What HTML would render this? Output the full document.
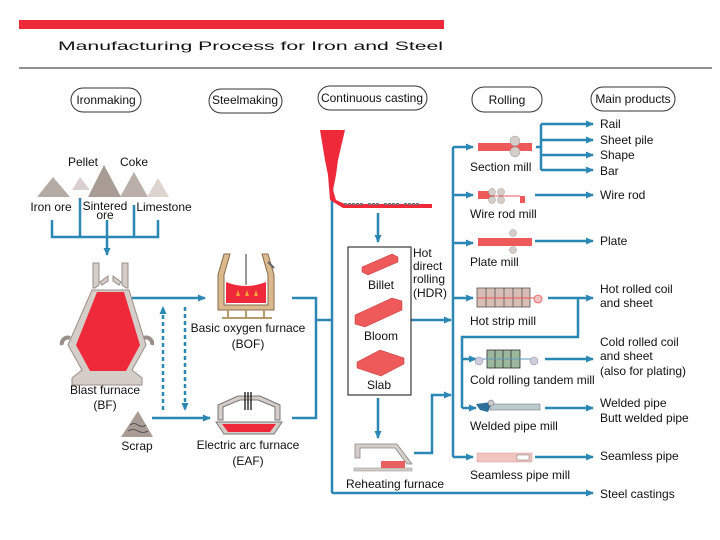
<!DOCTYPE html>
<html><head><meta charset="utf-8"><style>
html,body{margin:0;padding:0;background:#fff;}
svg{display:block;}
text{font-family:"Liberation Sans",Arial,sans-serif;font-size:12px;fill:#111;}
</style></head><body>
<svg width="720" height="540" viewBox="0 0 720 540" xmlns="http://www.w3.org/2000/svg">
<defs>
<marker id="a" markerWidth="8" markerHeight="8" refX="7" refY="4" orient="auto" markerUnits="userSpaceOnUse">
<path d="M0,0.5 L8,4 L0,7.5 z" fill="#2b87b3"/></marker>
</defs>
<!-- title -->
<rect x="19" y="20" width="425" height="9" fill="#ee2a3a"/>
<text x="58" y="50" font-size="22" textLength="385" lengthAdjust="spacingAndGlyphs">Manufacturing Process for Iron and Steel</text>
<line x1="19" y1="68" x2="712" y2="68" stroke="#222" stroke-width="1"/>

<!-- headers -->
<g fill="none" stroke="#333" stroke-width="1">
<rect x="71" y="88" width="70" height="24" rx="12"/>
<rect x="209" y="89" width="73" height="24" rx="12"/>
<rect x="318" y="86" width="109" height="24" rx="12"/>
<rect x="472" y="87" width="70" height="25" rx="12"/>
<rect x="591" y="87" width="84" height="24" rx="12"/>
</g>
<text x="106" y="104" text-anchor="middle" font-size="11">Ironmaking</text>
<text x="245" y="104" text-anchor="middle" font-size="11">Steelmaking</text>
<text x="372" y="102" text-anchor="middle" font-size="11">Continuous casting</text>
<text x="507" y="104" text-anchor="middle" font-size="11">Rolling</text>
<text x="633" y="103" text-anchor="middle" font-size="11">Main products</text>

<!-- raw materials -->
<polygon points="37,197 53,177 70,197" fill="#b5aba5"/>
<polygon points="72,190 80,177 90,190" fill="#d8d0cc"/>
<polygon points="88,197 104,165 121,197" fill="#a89c94"/>
<polygon points="120,197 134,172 148,197" fill="#b9afa8"/>
<polygon points="147,197 158,178 169,197" fill="#ddd4d0"/>
<text x="83" y="166" text-anchor="middle">Pellet</text>
<text x="134" y="166" text-anchor="middle">Coke</text>
<text x="51" y="211" text-anchor="middle">Iron ore</text>
<text x="105" y="210" text-anchor="middle">Sintered</text>
<text x="105" y="219" text-anchor="middle" font-size="10">ore</text>
<text x="164" y="211" text-anchor="middle">Limestone</text>

<g stroke="#2b87b3" stroke-width="2.5" fill="none">
<path d="M52,220 V237 H158 V220 M80,198 V237 M134,205 V237"/>
<path d="M107,220 V255" marker-end="url(#a)"/>
<path d="M132,298 H205" marker-end="url(#a)"/>
<path d="M152,418 H210" marker-end="url(#a)"/>
<path d="M163,410 V307" stroke-dasharray="4,3" marker-end="url(#a)"/>
<path d="M185,307 V410" stroke-dasharray="4,3" marker-end="url(#a)"/>
<path d="M292,298 H316 V418 H292 M316,320 H332"/>
<path d="M332,493 V136" marker-end="url(#a)"/>
<path d="M332,493 H593" marker-end="url(#a)"/>
<path d="M378,213 V242" marker-end="url(#a)"/>
<path d="M411,320 H451" marker-end="url(#a)"/>
<path d="M378,398 V438" marker-end="url(#a)"/>
<path d="M414,453 H432 V395 H451" marker-end="url(#a)"/>
<path d="M453,147 V457"/>
<path d="M453,147 H473" marker-end="url(#a)"/>
<path d="M453,195 H473" marker-end="url(#a)"/>
<path d="M453,243 H473" marker-end="url(#a)"/>
<path d="M453,298 H473" marker-end="url(#a)"/>
<path d="M453,457 H473" marker-end="url(#a)"/>
<path d="M548,298 H593" marker-end="url(#a)"/>
<path d="M578,298 V337 H462 V408"/>
<path d="M462,359 H476" marker-end="url(#a)"/>
<path d="M462,408 H476" marker-end="url(#a)"/>
<path d="M536,147 H541 M541,124 V170"/>
<path d="M541,124 H593" marker-end="url(#a)"/>
<path d="M541,140 H593" marker-end="url(#a)"/>
<path d="M541,155 H593" marker-end="url(#a)"/>
<path d="M541,170 H593" marker-end="url(#a)"/>
<path d="M535,195 H593" marker-end="url(#a)"/>
<path d="M535,241 H593" marker-end="url(#a)"/>
<path d="M545,359 H593" marker-end="url(#a)"/>
<path d="M545,408 H593" marker-end="url(#a)"/>
<path d="M535,457 H593" marker-end="url(#a)"/>
</g>

<!-- blast furnace -->
<g stroke="#9a8f88" stroke-width="1" fill="#d5cdc8">
<path d="M93,263 L99,263 L99,285 L95,288 L93,288 Z"/>
<path d="M122,263 L128,263 L128,288 L126,288 L122,285 Z"/>
<path d="M100,282 L108,276 L108,281 L102,285 Z M121,282 L113,276 L113,281 L119,285 Z"/>
<path d="M92,290 L129,290 L146,345 L132,370 L142,378 L142,385 L72,385 L72,378 L82,370 L68,345 Z"/>
<path d="M97,292 L124,292 L140,345 L126,371 L90,371 L76,345 Z" fill="#ee2a3a" stroke="none"/>
<path d="M62,345 a6,6 0 0 1 8,-7 M152,345 a6,6 0 0 0 -8,-7" fill="none" stroke-width="4"/>
</g>
<text x="105" y="394" text-anchor="middle">Blast furnace</text>
<text x="105" y="409" text-anchor="middle">(BF)</text>
<polygon points="121,437 138,411 153,437" fill="#a89c94"/>
<path d="M130,425 q4,-3 8,0 t8,0 M128,431 q5,-3 10,0 t10,0" stroke="#444" fill="none" stroke-width="0.8"/>
<text x="137" y="450" text-anchor="middle">Scrap</text>

<!-- BOF -->
<path d="M224,254 L230,254 L224,275 L224,305 L268,305 L268,275 L262,254 L268,254 L274,275 L274,310 L218,310 L218,275 Z" fill="#d9b98d" stroke="#8a6a4a" stroke-width="1"/>
<path d="M226,282 Q246,290 266,282 L266,303 L226,303 Z" fill="#ee2a3a"/>
<line x1="246" y1="254" x2="246" y2="285" stroke="#999" stroke-width="2"/>
<path d="M236,296 l2,-6 l2,6 z M245,296 l2,-6 l2,6 z M254,296 l2,-6 l2,6 z" fill="#f7a33a"/>
<path d="M228,310 V318 M246,310 V318 M264,310 V318 M222,318 H272" stroke="#b59a6a" stroke-width="2"/>
<line x1="268" y1="262" x2="274" y2="268" stroke="#666" stroke-width="2"/>
<text x="248" y="332" text-anchor="middle">Basic oxygen furnace</text>
<text x="248" y="348" text-anchor="middle">(BOF)</text>

<!-- EAF -->
<path d="M218,420 L218,405 L238,396 L260,396 L280,405 L280,420 L275,420 L275,407 L258,400 L240,400 L223,407 L223,420 Z" fill="#d5cdc8" stroke="#777" stroke-width="1"/>
<path d="M245,392 V410 M248,392 V410 M251,392 V410" stroke="#333" stroke-width="1.5"/>
<path d="M216,422 H282 L274,434 L224,434 Z" fill="#d5cdc8" stroke="#777" stroke-width="1"/>
<path d="M222,424 H276 L270,432 L228,432 Z" fill="#ee2a3a"/>
<text x="248" y="449" text-anchor="middle">Electric arc furnace</text>
<text x="248" y="465" text-anchor="middle">(EAF)</text>

<!-- continuous casting -->
<path d="M320,130 L345,130 L338,160 L336,175 L333,190 L336,200 L345,204 L432,204 L432,208 L343,208 L330,200 L328,175 L325,160 Z" fill="#ee2a3a"/>
<path d="M344,204 H364 M368,204 H380 M384,204 H400 M404,204 H420" stroke="#777" stroke-width="2" stroke-dasharray="3,1"/>

<!-- box -->
<rect x="348" y="247" width="63" height="148" fill="none" stroke="#111" stroke-width="1"/>
<path d="M362,267 L392,254 L398,257 L398,262 L368,275 L362,272 Z" fill="#ee5a5a" stroke="#b33" stroke-width="0.5"/>
<text x="381" y="289" text-anchor="middle">Billet</text>
<path d="M355,315 L392,298 L402,301 L402,310 L365,327 L355,324 Z" fill="#ee5a5a" stroke="#b33" stroke-width="0.5"/>
<text x="381" y="340" text-anchor="middle">Bloom</text>
<path d="M357,362 L380,350 L404,358 L404,364 L381,376 L357,368 Z" fill="#ee5a5a" stroke="#b33" stroke-width="0.5"/>
<text x="379" y="389" text-anchor="middle">Slab</text>
<text x="413" y="257">Hot</text>
<text x="413" y="270">direct</text>
<text x="413" y="283">rolling</text>
<text x="413" y="297">(HDR)</text>

<!-- reheating furnace -->
<path d="M355,458 V444 H397 L412,464 H407 L395,448 H360 V458 Z" fill="#d5cdc8" stroke="#888" stroke-width="0.8"/>
<rect x="354" y="468" width="58" height="3" fill="#d5cdc8" stroke="#888" stroke-width="0.5"/>
<rect x="381" y="461" width="24" height="7" fill="#e86060"/>
<text x="395" y="488" text-anchor="middle">Reheating furnace</text>

<!-- mills -->
<rect x="478" y="143" width="54" height="8" fill="#ee5a5a"/>
<circle cx="515" cy="141" r="5" fill="#d5cdc8" stroke="#999" stroke-width="0.5"/>
<circle cx="515" cy="152" r="5" fill="#d5cdc8" stroke="#999" stroke-width="0.5"/>
<text x="470" y="171">Section mill</text>
<rect x="478" y="191" width="16" height="8" fill="#ee5a5a"/>
<line x1="494" y1="196" x2="520" y2="196" stroke="#ee5a5a"/>
<circle cx="492" cy="192" r="3.5" fill="#d5cdc8" stroke="#999" stroke-width="0.5"/>
<circle cx="492" cy="200" r="3.5" fill="#d5cdc8" stroke="#999" stroke-width="0.5"/>
<circle cx="501" cy="192" r="3.5" fill="#d5cdc8" stroke="#999" stroke-width="0.5"/>
<circle cx="501" cy="200" r="3.5" fill="#d5cdc8" stroke="#999" stroke-width="0.5"/>
<rect x="520" y="196" width="5" height="7" fill="#ee5a5a"/>
<text x="470" y="218">Wire rod mill</text>
<rect x="478" y="238" width="54" height="8" fill="#ee5a5a"/>
<circle cx="513" cy="233" r="3.5" fill="#d5cdc8" stroke="#999" stroke-width="0.5"/>
<circle cx="513" cy="250" r="3.5" fill="#d5cdc8" stroke="#999" stroke-width="0.5"/>
<text x="470" y="266">Plate mill</text>
<rect x="477" y="288" width="53" height="19" fill="#d8bdb5" stroke="#555" stroke-width="0.8"/>
<path d="M486,288 V307 M495,288 V307 M504,288 V307 M513,288 V307 M522,288 V307" stroke="#555" stroke-width="0.8"/>
<line x1="477" y1="298" x2="537" y2="298" stroke="#e55"/>
<circle cx="538" cy="299" r="4" fill="#f3c0c0" stroke="#e55" stroke-width="0.8"/>
<text x="470" y="325">Hot strip mill</text>
<rect x="487" y="350" width="33" height="18" fill="#9cb89c" stroke="#333" stroke-width="0.8"/>
<path d="M495,350 V368 M503,350 V368 M511,350 V368" stroke="#333" stroke-width="0.8"/>
<line x1="478" y1="359" x2="533" y2="359" stroke="#5a9ac0"/>
<circle cx="479" cy="361" r="4" fill="#ccd" stroke="#889" stroke-width="0.5"/>
<circle cx="534" cy="361" r="4" fill="#ccd" stroke="#889" stroke-width="0.5"/>
<text x="470" y="384">Cold rolling tandem mill</text>
<path d="M476,404 L492,402 L488,412 L480,410 Z" fill="#2b6f9a"/>
<rect x="490" y="404" width="50" height="6" fill="#bcc" stroke="#667" stroke-width="0.5"/>
<circle cx="491" cy="403" r="3" fill="#ccc" stroke="#555" stroke-width="0.5"/>
<text x="470" y="430">Welded pipe mill</text>
<rect x="477" y="453" width="55" height="9" fill="#f2c4be" stroke="#c99" stroke-width="0.5"/>
<rect x="517" y="455" width="12" height="5" fill="#fff" stroke="#777" stroke-width="0.5"/>
<text x="470" y="479">Seamless pipe mill</text>

<!-- products -->
<text x="600" y="128">Rail</text>
<text x="600" y="144">Sheet pile</text>
<text x="600" y="159">Shape</text>
<text x="600" y="175">Bar</text>
<text x="600" y="199">Wire rod</text>
<text x="600" y="245">Plate</text>
<text x="600" y="293">Hot rolled coil</text>
<text x="600" y="307">and sheet</text>
<text x="600" y="346">Cold rolled coil</text>
<text x="600" y="360">and sheet</text>
<text x="600" y="375">(also for plating)</text>
<text x="600" y="407">Welded pipe</text>
<text x="600" y="422">Butt welded pipe</text>
<text x="600" y="460">Seamless pipe</text>
<text x="600" y="498">Steel castings</text>
</svg>
</body></html>
